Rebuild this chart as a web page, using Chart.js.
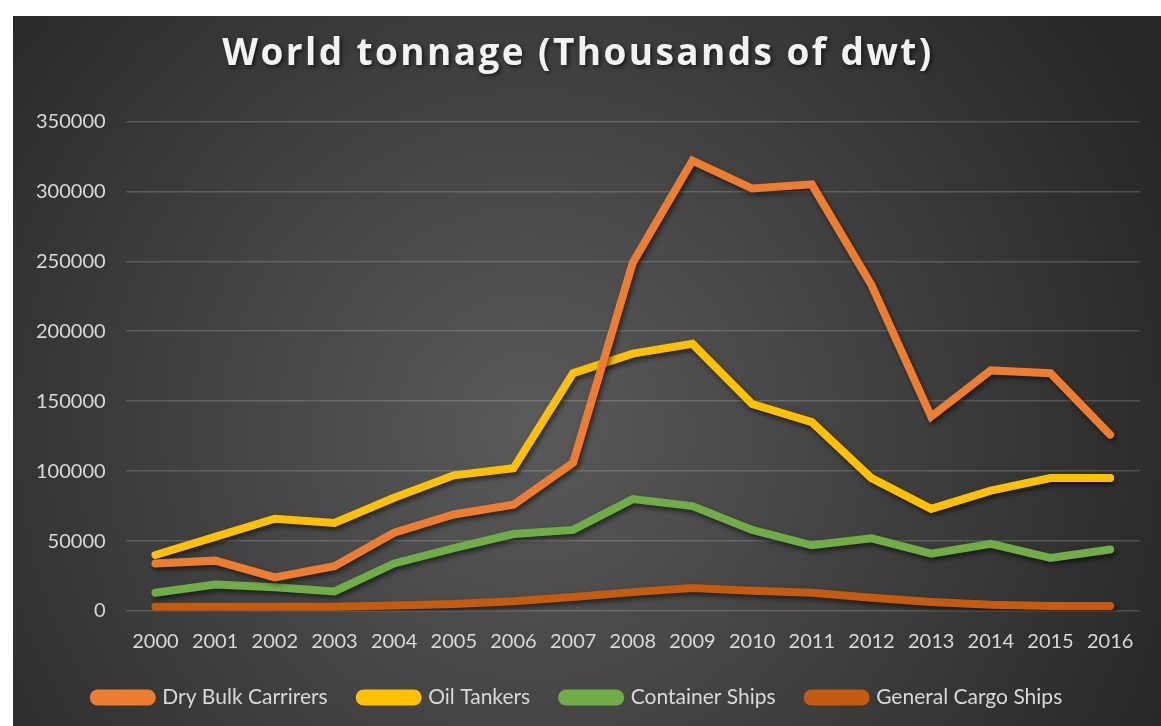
<!DOCTYPE html>
<html>
<head>
<meta charset="utf-8">
<script src="https://cdn.jsdelivr.net/npm/chart.js@4"></script>
<style>
  html, body { margin: 0; padding: 0; background: #fff; }
  #wrap { position: absolute; left: 13px; top: 16px; width: 1148px; height: 710px; }
</style>
</head>
<body>
<div id="wrap"><canvas id="tonnage"></canvas></div>
<script>
var years = ['2000', '2001', '2002', '2003', '2004', '2005', '2006', '2007', '2008',
             '2009', '2010', '2011', '2012', '2013', '2014', '2015', '2016'];

var dryBulk      = [34000, 36000, 24000, 32000, 56000, 69000, 76000, 106000, 249000,
                    322000, 302000, 305000, 233000, 139000, 172000, 170000, 126000];
var oilTankers   = [40000, 53000, 66000, 63000, 81000, 97000, 102000, 170000, 184000,
                    191000, 148000, 135000, 95000, 73000, 86000, 95000, 95000];
var containers   = [13000, 19000, 17000, 14000, 34000, 45000, 55000, 58000, 80000,
                    75000, 58000, 47000, 52000, 41000, 48000, 38000, 44000];
var generalCargo = [3000, 3000, 3000, 3000, 4000, 5000, 7000, 10000, 13500,
                    16500, 14500, 13000, 9500, 6500, 4500, 3500, 3500];

var yTicks = [0, 50000, 100000, 150000, 200000, 250000, 300000, 350000];

// dark radial background behind everything
var backdrop = {
    id: 'backdrop',
    beforeDraw: function(chart) {
        var ctx = chart.ctx, w = chart.width, h = chart.height;
        var g = ctx.createRadialGradient(w * 0.45, h * 0.58, 0, w * 0.45, h * 0.58, w * 0.62);
        g.addColorStop(0, '#5a5a5a');
        g.addColorStop(1, '#262626');
        ctx.save();
        ctx.fillStyle = g;
        ctx.fillRect(0, 0, w, h);
        ctx.restore();
    }
};

// soft drop shadow under the lines
var lineShadow = {
    id: 'lineShadow',
    beforeDatasetDraw: function(chart) {
        var ctx = chart.ctx;
        ctx.save();
        ctx.shadowColor = 'rgba(0,0,0,0.55)';
        ctx.shadowBlur = 5;
        ctx.shadowOffsetX = 2;
        ctx.shadowOffsetY = 3;
    },
    afterDatasetDraw: function(chart) {
        chart.ctx.restore();
    }
};

// spaced-out, shadowed title and a legend sitting closer to the axis
var LEGEND_SHIFT = 18;
var tweaks = {
    id: 'tweaks',
    beforeInit: function(chart) {
        var title = chart.titleBlock;
        var drawTitle = title.draw;
        title.draw = function() {
            var c = this.ctx;
            c.save();
            c.letterSpacing = '2.4px';
            c.shadowColor = 'rgba(0,0,0,0.6)';
            c.shadowBlur = 4;
            c.shadowOffsetX = 2;
            c.shadowOffsetY = 2;
            drawTitle.call(this);
            c.restore();
        };

        var legend = chart.legend;
        var fitLegend = legend.fit, drawLegend = legend.draw;
        legend.fit = function() {
            fitLegend.call(this);
            this.height -= LEGEND_SHIFT;
        };
        legend.draw = function() {
            var top = this.top;
            this.top = top - LEGEND_SHIFT;
            drawLegend.call(this);
            this.top = top;
        };
    }
};

function series(label, data, color) {
    return {
        label: label,
        data: data,
        borderColor: color,
        backgroundColor: color,
        borderWidth: 8,
        borderCapStyle: 'round',
        borderJoinStyle: 'miter',
        pointRadius: 0,
        tension: 0
    };
}

var ctx = document.getElementById('tonnage').getContext('2d');
window.tonnageChart = new Chart(ctx, {
    type: 'line',
    data: {
        labels: years,
        datasets: [
            series('Dry Bulk Carrirers', dryBulk, '#ED7D31'),
            series('Oil Tankers', oilTankers, '#FFC000'),
            series('Container Ships', containers, '#70AD47'),
            series('General Cargo Ships', generalCargo, '#C55A11')
        ]
    },
    options: {
        responsive: true,
        maintainAspectRatio: false,
        animation: false,
        layout: { padding: { left: 3, right: 21, top: 16, bottom: 8 } },
        plugins: {
            title: {
                display: true,
                text: 'World tonnage (Thousands of dwt)',
                color: '#f2f2f2',
                font: { family: 'Open Sans', size: 37, weight: 'bold' },
                padding: { top: 0, bottom: 45 }
            },
            legend: {
                position: 'bottom',
                labels: {
                    color: '#d9d9d9',
                    font: { family: 'Lato', size: 21 },
                    boxWidth: 58,
                    boxHeight: 8,
                    useBorderRadius: true,
                    borderRadius: 4,
                    padding: 32
                }
            },
            tooltip: { enabled: false }
        },
        scales: {
            x: {
                offset: true,
                grid: { display: false, drawTicks: false },
                border: { display: false },
                ticks: {
                    color: '#d9d9d9',
                    font: { family: 'Lato', size: 20 },
                    maxRotation: 0,
                    autoSkip: false,
                    padding: 19
                }
            },
            y: {
                min: 0,
                max: 350000,
                afterBuildTicks: function(axis) {
                    axis.ticks = yTicks.map(function(v) { return { value: v }; });
                },
                grid: { color: 'rgba(255,255,255,0.17)', lineWidth: 1.5, drawTicks: false },
                border: { display: false },
                ticks: {
                    color: '#d9d9d9',
                    font: { family: 'Lato', size: 20 },
                    padding: 20,
                    callback: function(v) { return String(v); }
                }
            }
        }
    },
    plugins: [backdrop, lineShadow, tweaks]
});
</script>
</body>
</html>
